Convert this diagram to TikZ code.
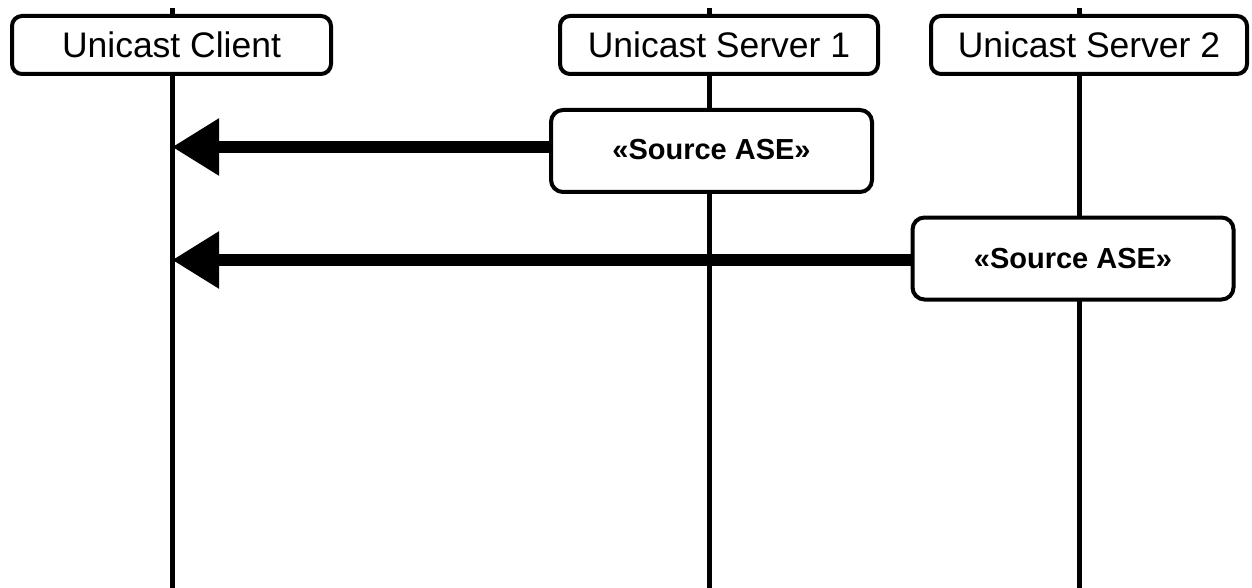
\documentclass[tikz,border=0pt]{standalone}
\usepackage{fontspec}
\setmainfont{Liberation Sans}
\usetikzlibrary{arrows.meta}
\begin{document}
\begin{tikzpicture}[x=1pt,y=-1pt,
  actor/.style={draw, line width=4pt, rounded corners=10pt, fill=white,
    minimum height=58pt, inner sep=0pt, font=\fontsize{35.5}{38}\selectfont},
  asebox/.style={draw, line width=4pt, rounded corners=12pt, fill=white,
    minimum width=321pt, minimum height=82pt, inner sep=0pt,
    font=\bfseries\fontsize{29}{31}\selectfont},
  life/.style={line width=5pt},
  msg/.style={line width=12pt, -{Triangle[length=47pt,width=54pt]}},
]
\useasboundingbox (0,0) rectangle (1252,588);
% lifelines
\coordinate (cltop) at (172,8);
\coordinate (clbot) at (172,588);
\coordinate (s1top) at (709,8);
\coordinate (s1bot) at (709,588);
\coordinate (s2top) at (1079,8);
\coordinate (s2bot) at (1079,588);
\draw[life] (cltop) -- (clbot);
\draw[life] (s1top) -- (s1bot);
\draw[life] (s2top) -- (s2bot);
% headers
\node[actor, minimum width=319pt] (client) at (171.5,45) {Unicast Client};
\node[actor, minimum width=318pt] (srv1) at (719,45) {Unicast Server 1};
\node[actor, minimum width=316pt] (srv2) at (1089,45) {Unicast Server 2};
% source ASE boxes
\node[asebox] (ase1) at (711.5,151) {\raisebox{3pt}{«Source ASE»}};
\node[asebox] (ase2) at (1073,258.5) {«Source ASE»};
% messages
\draw[msg] ([yshift=4pt]ase1.west) -- ([yshift=4pt]ase1.west -| cltop);
\draw[msg] ([yshift=-1.5pt]ase2.west) -- ([yshift=-1.5pt]ase2.west -| cltop);
\end{tikzpicture}
\end{document}
